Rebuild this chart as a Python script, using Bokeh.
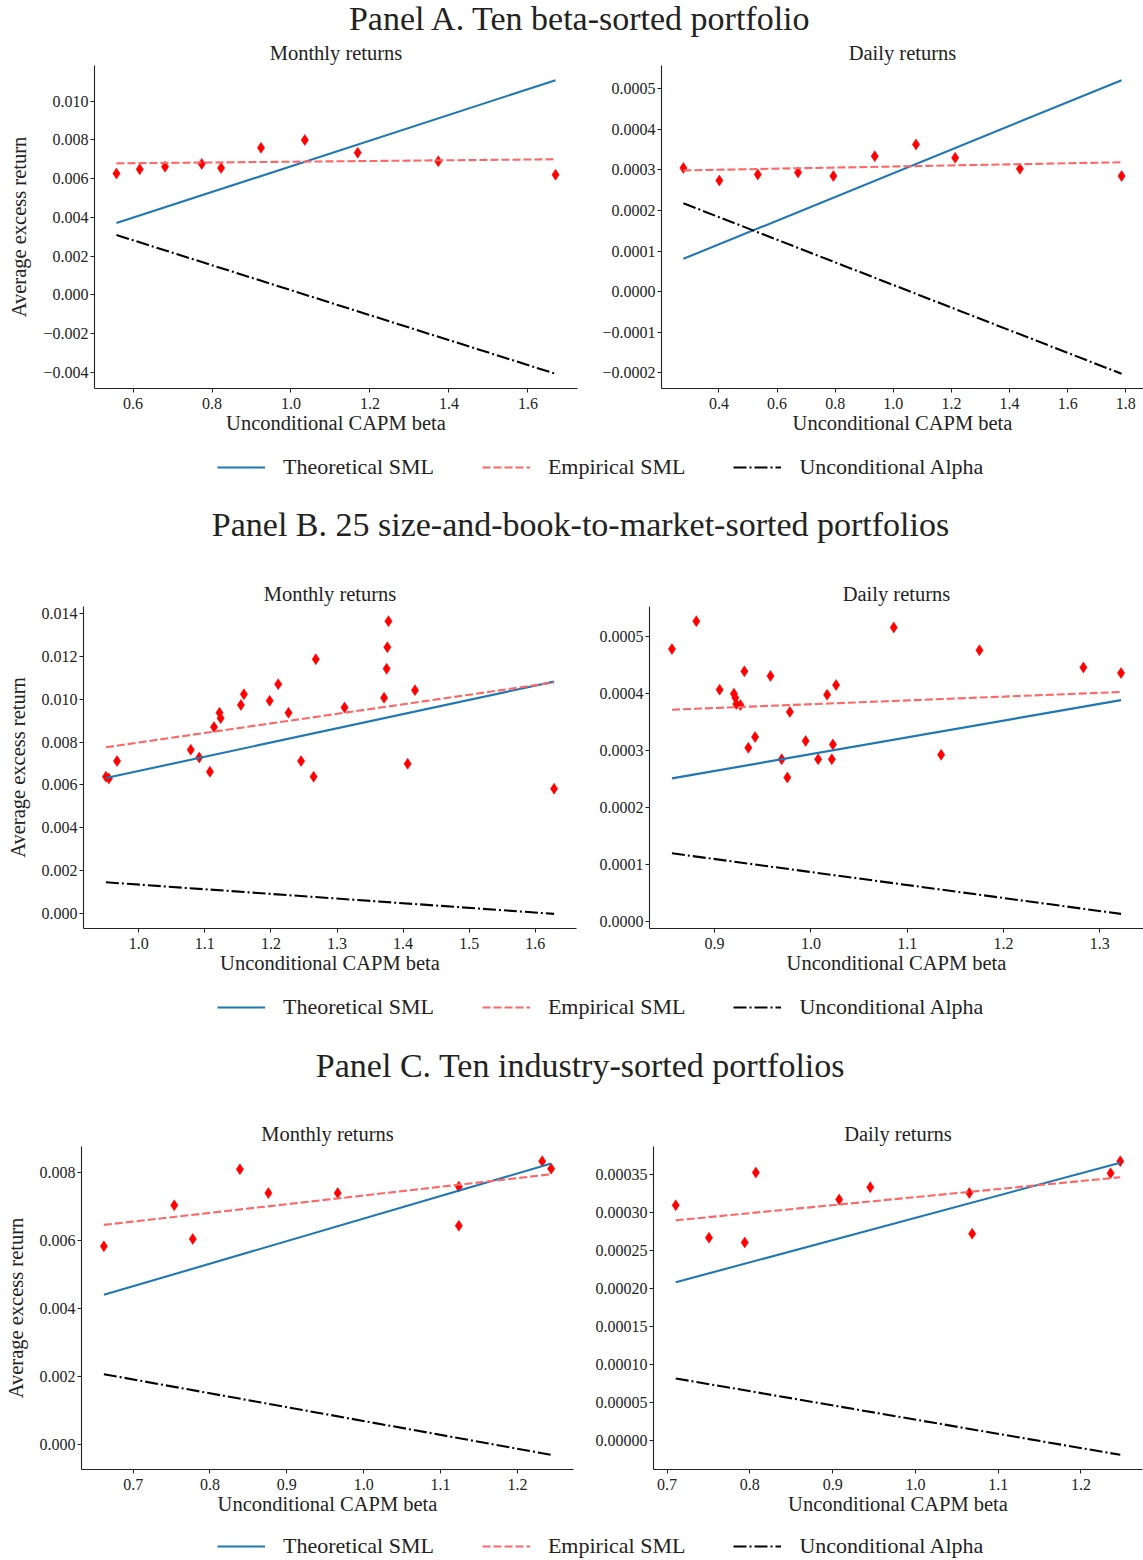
import numpy as np
from bokeh.plotting import figure
from bokeh.models import (Range1d, FixedTicker, CustomJSTickFormatter, Legend,
                          LegendItem, Label)
from bokeh.layouts import column, row
from bokeh.embed import file_html
from bokeh.resources import INLINE

FONT = "Liberation Serif"
BLUE = "#1f77b4"
PINK = "#ff6666"

# ---------------- data ----------------
panel_titles = ["Panel A. Ten beta-sorted portfolio",
                "Panel B. 25 size-and-book-to-market-sorted portfolios",
                "Panel C. Ten industry-sorted portfolios"]
sub_titles = ["Monthly returns", "Daily returns"]
legend_labels = ["Theoretical SML", "Empirical SML", "Unconditional Alpha"]
xlabel = "Unconditional CAPM beta"
ylabel = "Average excess return"

# Panel A, monthly
a_m_beta = [0.558, 0.617, 0.681, 0.774, 0.823, 0.924, 1.035, 1.169, 1.373, 1.670]
a_m_ret = [0.00626, 0.00648, 0.00662, 0.00676, 0.00655, 0.00759, 0.00800, 0.00734, 0.00690, 0.00620]
a_m_premium = 0.00664
a_m_emp = (0.006685, 0.000189)
# Panel A, daily
a_d_beta = [0.2776, 0.4012, 0.5336, 0.6720, 0.7936, 0.9360, 1.0779, 1.2127, 1.4353, 1.7853]
a_d_ret = [0.000305, 0.000274, 0.000289, 0.000294, 0.000285, 0.000334, 0.000363, 0.000330, 0.000303, 0.000285]
a_d_premium = 0.000292
a_d_emp = (0.0002953, 0.00001327)

# Panel B, monthly
b_m_beta = [0.9503, 0.9548, 0.9671, 1.0787, 1.0915, 1.1077, 1.1139, 1.1222, 1.1239, 1.1546,
            1.1591, 1.1981, 1.2110, 1.2266, 1.2456, 1.2646, 1.2679, 1.3114, 1.3712, 1.3751,
            1.3762, 1.3779, 1.4069, 1.4180, 1.6285]
b_m_ret = [0.006376, 0.006298, 0.00711, 0.00764, 0.00728, 0.00661, 0.00870, 0.00937, 0.00912, 0.00974,
           0.01024, 0.00993, 0.01071, 0.00937, 0.00711, 0.00638, 0.01188, 0.00962, 0.01007, 0.01143,
           0.01244, 0.01366, 0.00698, 0.01043, 0.00582]
b_m_premium = 0.00665
b_m_emp = (0.00351, 0.00447)
# Panel B, daily
b_d_beta = [0.8557, 0.8810, 0.9052, 0.9200, 0.9215, 0.9225, 0.9268, 0.9309, 0.9350, 0.9420,
            0.9580, 0.9696, 0.9755, 0.9781, 0.9945, 1.0075, 1.0168, 1.0217, 1.0228, 1.0261,
            1.0860, 1.1352, 1.1750, 1.2829, 1.3220]
b_d_ret = [0.000478, 0.000527, 0.000407, 0.000400, 0.000393, 0.000382, 0.000380, 0.000439, 0.000305, 0.000324,
           0.000431, 0.000285, 0.000253, 0.000368, 0.000317, 0.000285, 0.000398, 0.000285, 0.000311, 0.000415,
           0.000516, 0.000293, 0.000476, 0.000446, 0.000436]
b_d_premium = 0.000294
b_d_emp = (0.000315, 0.0000665)

# Panel C, monthly
c_m_beta = [0.6619, 0.7535, 0.7776, 0.8389, 0.8760, 0.9662, 1.1238, 1.1238, 1.2323, 1.2439]
c_m_ret = [0.005824, 0.00703, 0.00604, 0.00809, 0.00739, 0.00739, 0.00758, 0.00643, 0.00833, 0.00811]
c_m_premium = 0.00664
c_m_emp = (0.00476, 0.00256)
# Panel C, daily
c_d_beta = [0.7104, 0.7506, 0.7938, 0.8072, 0.9079, 0.9455, 1.0652, 1.0686, 1.2359, 1.2476]
c_d_ret = [0.0003095, 0.0002668, 0.0002606, 0.0003526, 0.000317, 0.0003333, 0.0003258, 0.0002721, 0.0003518, 0.0003676]
c_d_premium = 0.000293
c_d_emp = (0.0002146, 0.0001057)

# tick values
a_m_xticks = [0.6, 0.8, 1.0, 1.2, 1.4, 1.6]
a_m_yticks = [-0.004, -0.002, 0.0, 0.002, 0.004, 0.006, 0.008, 0.010]
a_d_xticks = [0.4, 0.6, 0.8, 1.0, 1.2, 1.4, 1.6, 1.8]
a_d_yticks = [-0.0002, -0.0001, 0.0, 0.0001, 0.0002, 0.0003, 0.0004, 0.0005]
b_m_xticks = [1.0, 1.1, 1.2, 1.3, 1.4, 1.5, 1.6]
b_m_yticks = [0.0, 0.002, 0.004, 0.006, 0.008, 0.010, 0.012, 0.014]
b_d_xticks = [0.9, 1.0, 1.1, 1.2, 1.3]
b_d_yticks = [0.0, 0.0001, 0.0002, 0.0003, 0.0004, 0.0005]
c_m_xticks = [0.7, 0.8, 0.9, 1.0, 1.1, 1.2]
c_m_yticks = [0.0, 0.002, 0.004, 0.006, 0.008]
c_d_xticks = [0.7, 0.8, 0.9, 1.0, 1.1, 1.2]
c_d_yticks = [0.0, 0.00005, 0.00010, 0.00015, 0.00020, 0.00025, 0.00030, 0.00035]


def fmt(decimals):
    return CustomJSTickFormatter(
        code="return tick.toFixed(%d).replace('-', '\u2212');" % decimals)


def padded(vals):
    lo, hi = min(vals), max(vals)
    m = 0.05 * (hi - lo)
    return Range1d(lo - m, hi + m)


def subplot(beta, ret, premium, emp, xticks, yticks, ydec, title,
            fw, fh, bl, br, bt, bb, ylab=None):
    xs = [min(beta), max(beta)]
    theo = [premium * b for b in xs]
    empl = [emp[0] + emp[1] * b for b in xs]
    alph = [e - t for e, t in zip(empl, theo)]
    p = figure(frame_width=fw, frame_height=fh,
               min_border_left=bl, min_border_right=br,
               min_border_top=bt, min_border_bottom=bb,
               x_range=padded(list(beta)),
               y_range=padded(list(ret) + theo + empl + alph),
               toolbar_location=None, output_backend="svg", title=title)
    p.title.align = "center"
    p.title.text_font = FONT
    p.title.text_font_size = "20.5px"
    p.title.text_font_style = "normal"
    p.title.text_color = "#222222"
    p.title.standoff = 3
    p.outline_line_color = None
    p.grid.visible = False

    p.scatter(beta, ret, marker="diamond", size=11, fill_color="red",
              line_color="red", line_width=0.5)
    p.line(xs, theo, line_color=BLUE, line_width=2.1)
    p.line(xs, empl, line_color=PINK, line_width=2.1, line_dash="8 3")
    p.line(xs, alph, line_color="black", line_width=2.1, line_dash="13 3 2 3")

    p.xaxis.ticker = FixedTicker(ticks=xticks)
    p.xaxis.formatter = fmt(1)
    p.yaxis.ticker = FixedTicker(ticks=yticks)
    p.yaxis.formatter = fmt(ydec)
    for ax in (p.xaxis, p.yaxis):
        ax.minor_tick_line_color = None
        ax.major_tick_in = 0
        ax.major_tick_out = 4
        ax.major_tick_line_color = "#222222"
        ax.axis_line_color = "#222222"
        ax.axis_line_width = 1.1
        ax.major_label_text_font = FONT
        ax.major_label_text_font_size = "16px"
        ax.major_label_text_color = "#222222"
        ax.major_label_standoff = 2
        ax.axis_label_text_font = FONT
        ax.axis_label_text_font_size = "20.5px"
        ax.axis_label_text_font_style = "normal"
        ax.axis_label_text_color = "#222222"
    p.xaxis.major_label_standoff = 5
    p.xaxis.axis_label_standoff = 0
    p.xaxis.axis_label = xlabel
    if ylab:
        p.yaxis.axis_label = ylab
        p.yaxis.axis_label_standoff = 10
    return p


def band(H, title=None, title_y=None, legend_y=None):
    p = figure(frame_width=1143, frame_height=H, x_range=Range1d(0, 1143),
               y_range=Range1d(H, 0), min_border=0, toolbar_location=None,
               output_backend="svg", x_axis_location=None, y_axis_location=None)
    p.outline_line_color = None
    p.grid.visible = False
    if title is not None:
        p.add_layout(Label(x=580, y=title_y, text=title, text_align="center",
                           text_baseline="alphabetic", text_font=FONT,
                           text_font_size="34px", text_color="#222222"))
    if legend_y is not None:
        nan2 = [np.nan, np.nan]
        r1 = p.line(x=nan2, y=nan2, line_color=BLUE, line_width=2.1)
        r2 = p.line(x=nan2, y=nan2, line_color=PINK, line_width=2.1, line_dash="8 3")
        r3 = p.line(x=nan2, y=nan2, line_color="black", line_width=2.1, line_dash="13 3 2 3")
        items = [LegendItem(label=lab, renderers=[r])
                 for lab, r in zip(legend_labels, [r1, r2, r3])]
        lg = Legend(items=items, orientation="horizontal",
                    location=(217, H - legend_y - 12),
                    glyph_width=48, glyph_height=24, label_height=24,
                    label_standoff=18, spacing=48, padding=0, margin=0,
                    border_line_color=None, background_fill_alpha=0,
                    label_text_font=FONT, label_text_font_size="22px",
                    label_text_color="#222222")
        p.add_layout(lg)
    return p


# ---------------- layout ----------------
band0 = band(38, panel_titles[0], 18)
rowA = row(
    subplot(a_m_beta, a_m_ret, a_m_premium, a_m_emp, a_m_xticks, a_m_yticks, 3,
            sub_titles[0], 483, 323, 94, 10, 27, 60, ylabel),
    subplot(a_d_beta, a_d_ret, a_d_premium, a_d_emp, a_d_xticks, a_d_yticks, 4,
            sub_titles[1], 482, 323, 74, 0, 27, 60),
)
band1 = band(112, panel_titles[1], 76, 19.7)
rowB = row(
    subplot(b_m_beta, b_m_ret, b_m_premium, b_m_emp, b_m_xticks, b_m_yticks, 3,
            sub_titles[0], 493, 322, 83, 10, 46, 60, ylabel),
    subplot(b_d_beta, b_d_ret, b_d_premium, b_d_emp, b_d_xticks, b_d_yticks, 4,
            sub_titles[1], 494, 322, 63, 0, 46, 60),
)
band2 = band(112, panel_titles[2], 77, 20)
rowC = row(
    subplot(c_m_beta, c_m_ret, c_m_premium, c_m_emp, c_m_xticks, c_m_yticks, 3,
            sub_titles[0], 492, 323, 81, 10, 46, 60, ylabel),
    subplot(c_d_beta, c_d_ret, c_d_premium, c_d_emp, c_d_xticks, c_d_yticks, 5,
            sub_titles[1], 489, 323, 70, 1, 46, 60),
)
band3 = band(31, None, None, 18)

layout = column(band0, rowA, band1, rowB, band2, rowC, band3)

with open("out.html", "w") as f:
    f.write(file_html(layout, INLINE))
